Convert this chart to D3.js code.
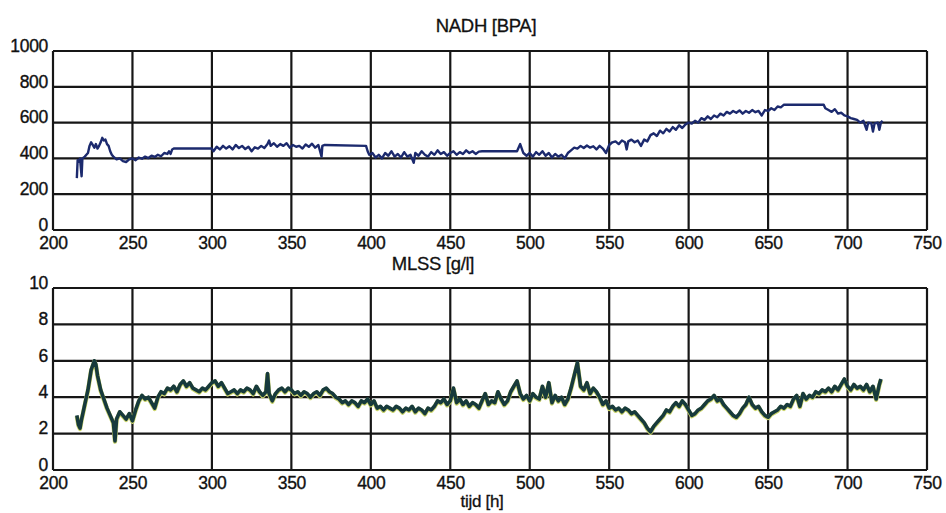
<!DOCTYPE html>
<html>
<head>
<meta charset="utf-8">
<script src="https://cdn.jsdelivr.net/npm/d3@7"></script>
<style>
  body { margin: 0; background: #fff; }
  text { font-family: "Liberation Sans", Arial, sans-serif; fill: #111; }
</style>
</head>
<body>
<div id="chart"></div>
<script>
const w = 946;
const h = 513;

const xTicks = [200, 250, 300, 350, 400, 450, 500, 550, 600, 650, 700, 750];
const nadhTicks = [0, 200, 400, 600, 800, 1000];
const mlssTicks = [0, 2, 4, 6, 8, 10];

// [tijd h, NADH BPA]
const nadh = [
  [215,290],[215.5,390],[216,380],[217,400],[218,300],[218.5,400],[220,410],[221,420],[222,430],[223,470],
  [224,490],[225,475],[226,460],[227,480],[228,455],[229,470],[230,490],[231,515],[232,500],[233,505],
  [234,480],[235,470],[236,440],[237,420],[238,410],[240,395],[242,400],[244,385],[246,380],[248,395],
  [250,400],[252,390],[254,405],[256,398],[258,410],[260,402],[262,415],[264,408],[266,420],[268,412],
  [270,430],[272,425],[273,440],[274,425],[275,450],[276,455],[300,455],[301,440],[303,465],[305,450],
  [307,470],[309,455],[311,468],[313,450],[315,475],[317,458],[319,470],[321,452],[323,465],[325,440],
  [327,462],[329,455],[331,470],[333,458],[335,480],[336,500],[337,470],[339,485],[341,465],[343,480],
  [345,470],[347,485],[349,460],[351,475],[353,465],[355,470],[357,455],[359,478],[361,465],[363,482],
  [365,460],[367,475],[369,410],[369.5,470],[371,475],[397,470],[398,440],[399,420],[401,430],[403,405],
  [405,420],[407,400],[409,430],[411,415],[413,440],[415,410],[417,425],[419,405],[421,435],[423,410],
  [425,420],[427,375],[428,430],[430,415],[432,440],[434,420],[436,410],[438,435],[440,420],[442,445],
  [444,425],[446,435],[448,415],[450,430],[452,440],[454,420],[456,435],[458,425],[460,445],[462,430],
  [464,440],[466,425],[468,438],[470,440],[492,440],[494,480],[496,430],[498,415],[500,430],[502,410],
  [504,435],[506,420],[508,440],[510,415],[512,430],[514,405],[516,425],[518,410],[520,420],[522,400],
  [524,430],[526,445],[528,460],[530,455],[532,470],[534,458],[536,472],[538,460],[540,468],[542,450],
  [544,470],[546,455],[548,430],[550,475],[552,490],[554,495],[556,480],[558,500],[560,490],[561,450],
  [562,495],[564,505],[566,490],[568,500],[570,470],[572,505],[574,495],[576,530],[578,540],[580,525],
  [582,555],[584,540],[586,565],[588,550],[590,575],[592,560],[594,585],[596,570],[598,590],[600,600],
  [602,595],[604,610],[606,600],[608,625],[610,615],[612,635],[614,620],[616,640],[618,630],[620,650],
  [622,640],[624,660],[626,650],[628,665],[630,655],[632,668],[634,650],[636,665],[638,655],[640,670],
  [642,658],[644,665],[646,640],[648,670],[650,665],[652,680],[654,670],[656,690],[658,685],[660,700],
  [685,700],[686,680],[688,670],[690,660],[692,675],[694,650],[696,655],[698,640],[700,635],[702,625],
  [704,620],[706,615],[708,600],[710,610],[712,560],[713,600],[715,595],[716,550],[717,595],[719,600],
  [720,560],[721,600],[722,610]
];

// [tijd h, MLSS g/l]
const mlss = [
  [215,3.0],[216,2.5],[217,2.3],[218,2.8],[219,3.2],[220,3.6],[222,4.4],[224,5.5],[226,6.0],[227,5.8],
  [228,5.2],[230,4.4],[232,3.9],[234,3.4],[236,3.0],[238,2.6],[239,1.6],[240,2.8],[242,3.2],[244,3.0],
  [246,2.8],[248,3.1],[250,2.7],[252,3.3],[254,3.8],[256,4.1],[258,3.9],[260,4.0],[262,3.7],[264,3.4],
  [266,4.0],[268,4.3],[270,4.2],[272,4.5],[274,4.4],[276,4.6],[278,4.3],[280,4.7],[282,4.9],[284,4.6],
  [286,4.8],[288,4.5],[290,4.4],[292,4.3],[294,4.5],[296,4.4],[298,4.6],[300,4.8],[302,4.9],[304,4.6],
  [306,4.8],[308,4.5],[310,4.2],[312,4.3],[314,4.4],[316,4.2],[318,4.4],[320,4.3],[322,4.5],[324,4.4],
  [326,4.2],[328,4.6],[330,4.3],[332,4.1],[334,4.3],[335,5.3],[336,4.2],[338,3.8],[340,4.2],[342,4.4],
  [344,4.5],[346,4.3],[348,4.5],[350,4.4],[352,4.2],[354,4.3],[356,4.1],[358,4.3],[360,4.2],[362,4.0],
  [364,4.2],[366,4.3],[368,4.1],[370,4.4],[372,4.5],[374,4.3],[376,4.2],[378,4.0],[380,3.9],[382,3.7],
  [384,3.8],[386,3.6],[388,3.8],[390,3.7],[392,3.5],[394,3.8],[396,3.7],[398,3.9],[400,3.6],[402,3.8],
  [404,3.4],[406,3.5],[408,3.3],[410,3.5],[412,3.4],[414,3.3],[416,3.5],[418,3.4],[420,3.2],[422,3.4],
  [424,3.3],[426,3.5],[428,3.2],[430,3.4],[432,3.3],[434,3.1],[436,3.4],[438,3.3],[440,3.5],[442,3.8],
  [444,3.7],[446,3.9],[448,3.6],[450,3.8],[452,4.5],[454,3.7],[456,3.9],[458,3.6],[460,3.8],[462,3.5],
  [464,3.7],[466,3.6],[468,3.4],[470,3.8],[472,4.2],[474,3.6],[476,3.8],[478,3.7],[480,4.3],[482,3.9],
  [484,3.6],[486,3.8],[488,4.3],[490,4.6],[492,4.9],[494,4.2],[496,3.9],[498,4.1],[500,3.8],[502,4.2],
  [504,4.0],[506,3.9],[508,4.6],[510,4.0],[512,4.8],[514,3.7],[516,4.1],[518,3.8],[520,4.0],[522,3.6],
  [524,3.9],[526,4.5],[528,5.2],[530,5.9],[532,4.6],[534,4.4],[536,4.8],[538,4.2],[540,4.5],[542,4.3],
  [544,4.0],[546,3.6],[548,3.8],[550,3.4],[552,3.5],[554,3.3],[556,3.4],[558,3.2],[560,3.4],[562,3.3],
  [564,3.1],[566,3.2],[568,3.0],[570,2.8],[572,2.6],[574,2.3],[576,2.1],[578,2.4],[580,2.6],[582,2.8],
  [584,3.0],[586,3.3],[588,3.2],[590,3.5],[592,3.7],[594,3.5],[596,3.8],[598,3.6],[600,3.3],[602,3.0],
  [604,3.1],[606,3.3],[608,3.4],[610,3.6],[612,3.8],[614,3.9],[616,4.1],[618,3.8],[620,3.9],[622,3.6],
  [624,3.4],[626,3.2],[628,3.0],[630,2.9],[632,3.1],[634,3.4],[636,3.6],[638,4.0],[640,3.6],[642,3.4],
  [644,3.5],[646,3.2],[648,3.0],[650,2.9],[652,3.1],[654,3.2],[656,3.3],[658,3.5],[660,3.4],[662,3.6],
  [664,3.5],[666,3.9],[668,4.1],[670,3.5],[672,4.2],[674,3.9],[676,4.1],[678,4.0],[680,4.3],[682,4.2],
  [684,4.4],[686,4.3],[688,4.5],[690,4.3],[692,4.6],[694,4.4],[696,4.7],[698,5.0],[700,4.6],[702,4.4],
  [704,4.7],[706,4.5],[708,4.6],[710,4.4],[712,4.7],[714,4.3],[716,4.6],[718,3.9],[720,4.7],[721,5.0]
];

const svg = d3.select('#chart')
  .append('svg')
  .attr('width', w)
  .attr('height', h);

let xScale = d3.scaleLinear()
  .domain([200, 750])
  .range([53, 927]);

function panel(data, yTicks, top, bottom, title, titleX, titleY, color, lw) {
  let yScale = d3.scaleLinear()
    .domain([yTicks[0], yTicks[yTicks.length - 1]])
    .range([bottom, top]);

  let g = svg.append('g');

  // grid
  g.selectAll('.vg')
    .data(xTicks)
    .enter()
    .append('line')
    .attr('x1', d => xScale(d)).attr('x2', d => xScale(d))
    .attr('y1', top).attr('y2', bottom)
    .attr('stroke', '#161616').attr('stroke-width', 2.2);

  g.selectAll('.hg')
    .data(yTicks)
    .enter()
    .append('line')
    .attr('x1', xScale(200)).attr('x2', xScale(750))
    .attr('y1', d => yScale(d)).attr('y2', d => yScale(d))
    .attr('stroke', '#161616').attr('stroke-width', 2.2);

  let line = d3.line()
    .x(d => xScale(d[0]))
    .y(d => yScale(d[1]));

  if (color.under) {
    g.append('path')
      .datum(data)
      .attr('d', line)
      .attr('fill', 'none')
      .attr('stroke', color.under)
      .attr('stroke-width', lw + 0.8)
      .attr('transform', 'translate(0,0.8)')
      .attr('stroke-linejoin', 'round');
  }

  g.append('path')
    .datum(data)
    .attr('d', line)
    .attr('fill', 'none')
    .attr('stroke', color.main)
    .attr('stroke-width', lw)
    .attr('stroke-linejoin', 'round');

  // axes: labels only, the frame comes from the grid
  let xAxis = d3.axisBottom(xScale).tickValues(xTicks).tickSize(0).tickPadding(7)
    .tickFormat(d3.format('d'));
  let yAxis = d3.axisLeft(yScale).tickValues(yTicks).tickSize(0).tickPadding(5)
    .tickFormat(d3.format('d'));

  let xa = g.append('g')
    .attr('transform', 'translate(0,' + bottom + ')')
    .call(xAxis);
  let ya = g.append('g')
    .attr('transform', 'translate(' + xScale(200) + ',0)')
    .call(yAxis);

  [xa, ya].forEach(a => {
    a.select('.domain').remove();
    a.selectAll('text')
      .attr('font-family', '"Liberation Sans", Arial, sans-serif')
      .attr('font-size', '17.5px')
      .attr('letter-spacing', '-0.3px')
      .attr('fill', '#111')
      .attr('stroke', '#111')
      .attr('stroke-width', 0.35);
  });
  ya.selectAll('text').attr('dy', '0.02em');

  svg.append('text')
    .attr('x', titleX)
    .attr('y', titleY)
    .attr('text-anchor', 'middle')
    .attr('font-size', '18.5px')
    .attr('letter-spacing', '-0.3px')
    .attr('stroke', '#111')
    .attr('stroke-width', 0.3)
    .text(title);
}

panel(nadh, nadhTicks, 51, 230, 'NADH [BPA]', 486, 32, { main: '#1c2a6e' }, 2.4);
panel(mlss, mlssTicks, 288, 470, 'MLSS [g/l]', 433, 270, { main: '#173a3c', under: '#c9d36a' }, 3.6);

svg.append('text')
  .attr('x', 482)
  .attr('y', 507)
  .attr('text-anchor', 'middle')
  .attr('font-size', '17px')
  .attr('letter-spacing', '-0.3px')
  .attr('stroke', '#111')
  .attr('stroke-width', 0.3)
  .text('tijd [h]');
</script>
</body>
</html>
